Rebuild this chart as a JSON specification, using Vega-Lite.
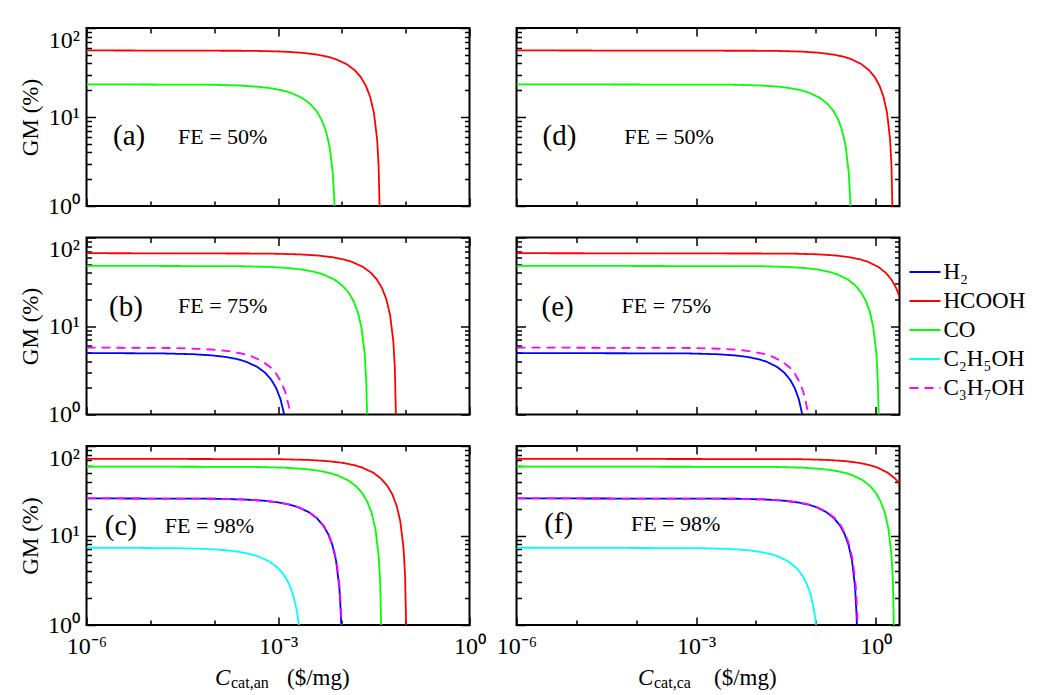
{
"$schema": "https://vega.github.io/schema/vega-lite/v6.json",
"padding": {"left": 18.5, "top": 19, "right": 2, "bottom": 2},
"background": "white",
"spacing": {"row": 31.5, "column": 47},
"columns": 2,
"bounds": "flush",
"resolve": {"scale": {"color": "independent", "strokeDash": "independent"}, "legend": {"color": "independent", "strokeDash": "independent"}},
"config": {
 "font": "Liberation Serif",
 "view": {"stroke": "black", "strokeWidth": 2},
 "axis": {"domain": false, "grid": false, "tickColor": "black", "tickWidth": 1.5, "labelColor": "black", "titleColor": "black", "labelFont": "Liberation Serif", "titleFont": "Liberation Serif", "titleFontWeight": "normal", "labelFontSize": 24, "labelOverlap": false, "labelFlush": false, "labelBound": false}
},
"datasets": {
 "notes": [
  {"p":"a","c":2.6e-6,"gm":6.1,"t":"(a)"},
  {"p":"a","c":2.71e-5,"gm":6.0,"t":"FE = 50%"},
  {"p":"b","c":2.25e-6,"gm":16.4,"t":"(b)"},
  {"p":"b","c":2.71e-5,"gm":17.0,"t":"FE = 75%"},
  {"p":"c","c":1.93e-6,"gm":12.8,"t":"(c)"},
  {"p":"c","c":1.68e-5,"gm":12.8,"t":"FE = 98%"},
  {"p":"d","c":2.72e-6,"gm":6.1,"t":"(d)"},
  {"p":"d","c":6.32e-5,"gm":6.0,"t":"FE = 50%"},
  {"p":"e","c":2.62e-6,"gm":16.4,"t":"(e)"},
  {"p":"e","c":5.7e-5,"gm":17.0,"t":"FE = 75%"},
  {"p":"f","c":2.9e-6,"gm":13.4,"t":"(f)"},
  {"p":"f","c":8.15e-5,"gm":13.4,"t":"FE = 98%"}
 ],
 "a": [
  {"s":"HCOOH","c":1e-6,"gm":56},{"s":"HCOOH","c":3.97e-4,"gm":55.44},{"s":"HCOOH","c":1.191e-3,"gm":54.32},{"s":"HCOOH","c":2.382e-3,"gm":52.64},{"s":"HCOOH","c":3.97e-3,"gm":50.4},{"s":"HCOOH","c":5.955e-3,"gm":47.6},{"s":"HCOOH","c":7.94e-3,"gm":44.8},{"s":"HCOOH","c":0.01191,"gm":39.2},{"s":"HCOOH","c":0.01588,"gm":33.6},{"s":"HCOOH","c":0.01985,"gm":28},{"s":"HCOOH","c":0.02382,"gm":22.4},{"s":"HCOOH","c":0.02779,"gm":16.8},{"s":"HCOOH","c":0.03176,"gm":11.2},{"s":"HCOOH","c":0.03573,"gm":5.6},{"s":"HCOOH","c":0.03772,"gm":2.8},{"s":"HCOOH","c":0.03899,"gm":1},
  {"s":"CO","c":1e-6,"gm":23.3},{"s":"CO","c":8.03e-5,"gm":23.07},{"s":"CO","c":2.409e-4,"gm":22.6},{"s":"CO","c":4.818e-4,"gm":21.9},{"s":"CO","c":8.03e-4,"gm":20.97},{"s":"CO","c":1.2045e-3,"gm":19.81},{"s":"CO","c":1.606e-3,"gm":18.64},{"s":"CO","c":2.409e-3,"gm":16.31},{"s":"CO","c":3.212e-3,"gm":13.98},{"s":"CO","c":4.015e-3,"gm":11.65},{"s":"CO","c":4.818e-3,"gm":9.32},{"s":"CO","c":5.621e-3,"gm":6.99},{"s":"CO","c":6.424e-3,"gm":4.66},{"s":"CO","c":7.227e-3,"gm":2.33},{"s":"CO","c":7.6285e-3,"gm":1.165},{"s":"CO","c":7.6853e-3,"gm":1}
 ],
 "d": [
  {"s":"HCOOH","c":1e-6,"gm":56},{"s":"HCOOH","c":0.01934,"gm":55.44},{"s":"HCOOH","c":0.05802,"gm":54.32},{"s":"HCOOH","c":0.11604,"gm":52.64},{"s":"HCOOH","c":0.1934,"gm":50.4},{"s":"HCOOH","c":0.2901,"gm":47.6},{"s":"HCOOH","c":0.3868,"gm":44.8},{"s":"HCOOH","c":0.5802,"gm":39.2},{"s":"HCOOH","c":0.7736,"gm":33.6},{"s":"HCOOH","c":0.967,"gm":28},{"s":"HCOOH","c":1.1604,"gm":22.4},{"s":"HCOOH","c":1.3538,"gm":16.8},{"s":"HCOOH","c":1.5472,"gm":11.2},{"s":"HCOOH","c":1.7406,"gm":5.6},{"s":"HCOOH","c":1.8373,"gm":2.8},{"s":"HCOOH","c":1.8995,"gm":1},
  {"s":"CO","c":1e-6,"gm":23.3},{"s":"CO","c":3.95e-3,"gm":23.07},{"s":"CO","c":0.01185,"gm":22.6},{"s":"CO","c":0.0237,"gm":21.9},{"s":"CO","c":0.0395,"gm":20.97},{"s":"CO","c":0.05925,"gm":19.81},{"s":"CO","c":0.079,"gm":18.64},{"s":"CO","c":0.1185,"gm":16.31},{"s":"CO","c":0.158,"gm":13.98},{"s":"CO","c":0.1975,"gm":11.65},{"s":"CO","c":0.237,"gm":9.32},{"s":"CO","c":0.2765,"gm":6.99},{"s":"CO","c":0.316,"gm":4.66},{"s":"CO","c":0.3555,"gm":2.33},{"s":"CO","c":0.37525,"gm":1.165},{"s":"CO","c":0.37805,"gm":1}
 ],
 "b": [
  {"s":"H₂","c":1e-6,"gm":4.95},{"s":"H₂","c":1.566e-5,"gm":4.9},{"s":"H₂","c":4.698e-5,"gm":4.8},{"s":"H₂","c":9.396e-5,"gm":4.65},{"s":"H₂","c":1.566e-4,"gm":4.455},{"s":"H₂","c":2.349e-4,"gm":4.21},{"s":"H₂","c":3.132e-4,"gm":3.96},{"s":"H₂","c":4.698e-4,"gm":3.465},{"s":"H₂","c":6.264e-4,"gm":2.97},{"s":"H₂","c":7.83e-4,"gm":2.475},{"s":"H₂","c":9.396e-4,"gm":1.98},{"s":"H₂","c":1.0962e-3,"gm":1.485},{"s":"H₂","c":1.2497e-3,"gm":1},
  {"s":"HCOOH","c":1e-6,"gm":66.5},{"s":"HCOOH","c":7.13e-4,"gm":65.84},{"s":"HCOOH","c":2.139e-3,"gm":64.51},{"s":"HCOOH","c":4.278e-3,"gm":62.51},{"s":"HCOOH","c":7.13e-3,"gm":59.85},{"s":"HCOOH","c":0.010695,"gm":56.53},{"s":"HCOOH","c":0.01426,"gm":53.2},{"s":"HCOOH","c":0.02139,"gm":46.55},{"s":"HCOOH","c":0.02852,"gm":39.9},{"s":"HCOOH","c":0.03565,"gm":33.25},{"s":"HCOOH","c":0.04278,"gm":26.6},{"s":"HCOOH","c":0.04991,"gm":19.95},{"s":"HCOOH","c":0.05704,"gm":13.3},{"s":"HCOOH","c":0.06417,"gm":6.65},{"s":"HCOOH","c":0.067735,"gm":3.325},{"s":"HCOOH","c":0.070228,"gm":1},
  {"s":"CO","c":1e-6,"gm":47.9},{"s":"CO","c":2.54e-4,"gm":47.42},{"s":"CO","c":7.62e-4,"gm":46.46},{"s":"CO","c":1.524e-3,"gm":45.03},{"s":"CO","c":2.54e-3,"gm":43.11},{"s":"CO","c":3.81e-3,"gm":40.72},{"s":"CO","c":5.08e-3,"gm":38.32},{"s":"CO","c":7.62e-3,"gm":33.53},{"s":"CO","c":0.01016,"gm":28.74},{"s":"CO","c":0.0127,"gm":23.95},{"s":"CO","c":0.01524,"gm":19.16},{"s":"CO","c":0.01778,"gm":14.37},{"s":"CO","c":0.02032,"gm":9.58},{"s":"CO","c":0.02286,"gm":4.79},{"s":"CO","c":0.02413,"gm":2.395},{"s":"CO","c":0.02487,"gm":1},
  {"s":"C₃H₇OH","c":1e-6,"gm":5.7},{"s":"C₃H₇OH","c":1.9e-5,"gm":5.643},{"s":"C₃H₇OH","c":5.7e-5,"gm":5.529},{"s":"C₃H₇OH","c":1.14e-4,"gm":5.358},{"s":"C₃H₇OH","c":1.9e-4,"gm":5.13},{"s":"C₃H₇OH","c":2.85e-4,"gm":4.845},{"s":"C₃H₇OH","c":3.8e-4,"gm":4.56},{"s":"C₃H₇OH","c":5.7e-4,"gm":3.99},{"s":"C₃H₇OH","c":7.6e-4,"gm":3.42},{"s":"C₃H₇OH","c":9.5e-4,"gm":2.85},{"s":"C₃H₇OH","c":1.14e-3,"gm":2.28},{"s":"C₃H₇OH","c":1.33e-3,"gm":1.71},{"s":"C₃H₇OH","c":1.52e-3,"gm":1.14},{"s":"C₃H₇OH","c":1.5667e-3,"gm":1}
 ],
 "e": [
  {"s":"H₂","c":1e-6,"gm":4.95},{"s":"H₂","c":7.44e-4,"gm":4.9},{"s":"H₂","c":2.232e-3,"gm":4.8},{"s":"H₂","c":4.464e-3,"gm":4.65},{"s":"H₂","c":7.44e-3,"gm":4.455},{"s":"H₂","c":0.01116,"gm":4.21},{"s":"H₂","c":0.01488,"gm":3.96},{"s":"H₂","c":0.02232,"gm":3.465},{"s":"H₂","c":0.02976,"gm":2.97},{"s":"H₂","c":0.0372,"gm":2.475},{"s":"H₂","c":0.04464,"gm":1.98},{"s":"H₂","c":0.05208,"gm":1.485},{"s":"H₂","c":0.05937,"gm":1},
  {"s":"HCOOH","c":1e-6,"gm":66.5},{"s":"HCOOH","c":0.0369,"gm":65.84},{"s":"HCOOH","c":0.1107,"gm":64.51},{"s":"HCOOH","c":0.2214,"gm":62.51},{"s":"HCOOH","c":0.369,"gm":59.85},{"s":"HCOOH","c":0.5535,"gm":56.53},{"s":"HCOOH","c":0.738,"gm":53.2},{"s":"HCOOH","c":1.107,"gm":46.55},{"s":"HCOOH","c":1.476,"gm":39.9},{"s":"HCOOH","c":1.845,"gm":33.25},{"s":"HCOOH","c":2.214,"gm":26.6},{"s":"HCOOH","c":2.5,"gm":21.45},
  {"s":"CO","c":1e-6,"gm":47.9},{"s":"CO","c":0.01143,"gm":47.42},{"s":"CO","c":0.03429,"gm":46.46},{"s":"CO","c":0.06858,"gm":45.03},{"s":"CO","c":0.1143,"gm":43.11},{"s":"CO","c":0.17145,"gm":40.72},{"s":"CO","c":0.2286,"gm":38.32},{"s":"CO","c":0.3429,"gm":33.53},{"s":"CO","c":0.4572,"gm":28.74},{"s":"CO","c":0.5715,"gm":23.95},{"s":"CO","c":0.6858,"gm":19.16},{"s":"CO","c":0.8001,"gm":14.37},{"s":"CO","c":0.9144,"gm":9.58},{"s":"CO","c":1.0287,"gm":4.79},{"s":"CO","c":1.08585,"gm":2.395},{"s":"CO","c":1.11913,"gm":1},
  {"s":"C₃H₇OH","c":1e-6,"gm":5.7},{"s":"C₃H₇OH","c":9.05e-4,"gm":5.643},{"s":"C₃H₇OH","c":2.715e-3,"gm":5.529},{"s":"C₃H₇OH","c":5.43e-3,"gm":5.358},{"s":"C₃H₇OH","c":9.05e-3,"gm":5.13},{"s":"C₃H₇OH","c":0.013575,"gm":4.845},{"s":"C₃H₇OH","c":0.0181,"gm":4.56},{"s":"C₃H₇OH","c":0.02715,"gm":3.99},{"s":"C₃H₇OH","c":0.0362,"gm":3.42},{"s":"C₃H₇OH","c":0.04525,"gm":2.85},{"s":"C₃H₇OH","c":0.0543,"gm":2.28},{"s":"C₃H₇OH","c":0.06335,"gm":1.71},{"s":"C₃H₇OH","c":0.0724,"gm":1.14},{"s":"C₃H₇OH","c":0.07462,"gm":1}
 ],
 "c": [
  {"s":"H₂","c":1e-6,"gm":26},{"s":"H₂","c":1.017e-4,"gm":25.74},{"s":"H₂","c":3.051e-4,"gm":25.22},{"s":"H₂","c":6.102e-4,"gm":24.44},{"s":"H₂","c":1.017e-3,"gm":23.4},{"s":"H₂","c":1.5255e-3,"gm":22.1},{"s":"H₂","c":2.034e-3,"gm":20.8},{"s":"H₂","c":3.051e-3,"gm":18.2},{"s":"H₂","c":4.068e-3,"gm":15.6},{"s":"H₂","c":5.085e-3,"gm":13},{"s":"H₂","c":6.102e-3,"gm":10.4},{"s":"H₂","c":7.119e-3,"gm":7.8},{"s":"H₂","c":8.136e-3,"gm":5.2},{"s":"H₂","c":9.153e-3,"gm":2.6},{"s":"H₂","c":9.6615e-3,"gm":1.3},{"s":"H₂","c":9.7789e-3,"gm":1},
  {"s":"HCOOH","c":1e-6,"gm":72},{"s":"HCOOH","c":1.03e-3,"gm":71.28},{"s":"HCOOH","c":3.09e-3,"gm":69.84},{"s":"HCOOH","c":6.18e-3,"gm":67.68},{"s":"HCOOH","c":0.0103,"gm":64.8},{"s":"HCOOH","c":0.01545,"gm":61.2},{"s":"HCOOH","c":0.0206,"gm":57.6},{"s":"HCOOH","c":0.0309,"gm":50.4},{"s":"HCOOH","c":0.0412,"gm":43.2},{"s":"HCOOH","c":0.0515,"gm":36},{"s":"HCOOH","c":0.0618,"gm":28.8},{"s":"HCOOH","c":0.0721,"gm":21.6},{"s":"HCOOH","c":0.0824,"gm":14.4},{"s":"HCOOH","c":0.0927,"gm":7.2},{"s":"HCOOH","c":0.09785,"gm":3.6},{"s":"HCOOH","c":0.10157,"gm":1},
  {"s":"CO","c":1e-6,"gm":59},{"s":"CO","c":4.2e-4,"gm":58.41},{"s":"CO","c":1.26e-3,"gm":57.23},{"s":"CO","c":2.52e-3,"gm":55.46},{"s":"CO","c":4.2e-3,"gm":53.1},{"s":"CO","c":6.3e-3,"gm":50.15},{"s":"CO","c":8.4e-3,"gm":47.2},{"s":"CO","c":0.0126,"gm":41.3},{"s":"CO","c":0.0168,"gm":35.4},{"s":"CO","c":0.021,"gm":29.5},{"s":"CO","c":0.0252,"gm":23.6},{"s":"CO","c":0.0294,"gm":17.7},{"s":"CO","c":0.0336,"gm":11.8},{"s":"CO","c":0.0378,"gm":5.9},{"s":"CO","c":0.0399,"gm":2.95},{"s":"CO","c":0.041288,"gm":1},
  {"s":"C₂H₅OH","c":1e-6,"gm":7.3},{"s":"C₂H₅OH","c":2.46e-5,"gm":7.227},{"s":"C₂H₅OH","c":7.38e-5,"gm":7.081},{"s":"C₂H₅OH","c":1.476e-4,"gm":6.862},{"s":"C₂H₅OH","c":2.46e-4,"gm":6.57},{"s":"C₂H₅OH","c":3.69e-4,"gm":6.205},{"s":"C₂H₅OH","c":4.92e-4,"gm":5.84},{"s":"C₂H₅OH","c":7.38e-4,"gm":5.11},{"s":"C₂H₅OH","c":9.84e-4,"gm":4.38},{"s":"C₂H₅OH","c":1.23e-3,"gm":3.65},{"s":"C₂H₅OH","c":1.476e-3,"gm":2.92},{"s":"C₂H₅OH","c":1.722e-3,"gm":2.19},{"s":"C₂H₅OH","c":1.968e-3,"gm":1.46},{"s":"C₂H₅OH","c":2.123e-3,"gm":1},
  {"s":"C₃H₇OH","c":1e-6,"gm":26},{"s":"C₃H₇OH","c":1.03e-4,"gm":25.74},{"s":"C₃H₇OH","c":3.09e-4,"gm":25.22},{"s":"C₃H₇OH","c":6.18e-4,"gm":24.44},{"s":"C₃H₇OH","c":1.03e-3,"gm":23.4},{"s":"C₃H₇OH","c":1.545e-3,"gm":22.1},{"s":"C₃H₇OH","c":2.06e-3,"gm":20.8},{"s":"C₃H₇OH","c":3.09e-3,"gm":18.2},{"s":"C₃H₇OH","c":4.12e-3,"gm":15.6},{"s":"C₃H₇OH","c":5.15e-3,"gm":13},{"s":"C₃H₇OH","c":6.18e-3,"gm":10.4},{"s":"C₃H₇OH","c":7.21e-3,"gm":7.8},{"s":"C₃H₇OH","c":8.24e-3,"gm":5.2},{"s":"C₃H₇OH","c":9.27e-3,"gm":2.6},{"s":"C₃H₇OH","c":9.785e-3,"gm":1.3},{"s":"C₃H₇OH","c":9.9039e-3,"gm":1}
 ],
 "f": [
  {"s":"H₂","c":1e-6,"gm":26},{"s":"H₂","c":5.04e-3,"gm":25.74},{"s":"H₂","c":0.01512,"gm":25.22},{"s":"H₂","c":0.03024,"gm":24.44},{"s":"H₂","c":0.0504,"gm":23.4},{"s":"H₂","c":0.0756,"gm":22.1},{"s":"H₂","c":0.1008,"gm":20.8},{"s":"H₂","c":0.1512,"gm":18.2},{"s":"H₂","c":0.2016,"gm":15.6},{"s":"H₂","c":0.252,"gm":13},{"s":"H₂","c":0.3024,"gm":10.4},{"s":"H₂","c":0.3528,"gm":7.8},{"s":"H₂","c":0.4032,"gm":5.2},{"s":"H₂","c":0.4536,"gm":2.6},{"s":"H₂","c":0.4788,"gm":1.3},{"s":"H₂","c":0.48462,"gm":1},
  {"s":"HCOOH","c":1e-6,"gm":72},{"s":"HCOOH","c":0.0528,"gm":71.28},{"s":"HCOOH","c":0.1584,"gm":69.84},{"s":"HCOOH","c":0.3168,"gm":67.68},{"s":"HCOOH","c":0.528,"gm":64.8},{"s":"HCOOH","c":0.792,"gm":61.2},{"s":"HCOOH","c":1.056,"gm":57.6},{"s":"HCOOH","c":1.584,"gm":50.4},{"s":"HCOOH","c":2.112,"gm":43.2},{"s":"HCOOH","c":2.5,"gm":37.91},
  {"s":"CO","c":1e-6,"gm":59},{"s":"CO","c":0.02045,"gm":58.41},{"s":"CO","c":0.06135,"gm":57.23},{"s":"CO","c":0.1227,"gm":55.46},{"s":"CO","c":0.2045,"gm":53.1},{"s":"CO","c":0.30675,"gm":50.15},{"s":"CO","c":0.409,"gm":47.2},{"s":"CO","c":0.6135,"gm":41.3},{"s":"CO","c":0.818,"gm":35.4},{"s":"CO","c":1.0225,"gm":29.5},{"s":"CO","c":1.227,"gm":23.6},{"s":"CO","c":1.4315,"gm":17.7},{"s":"CO","c":1.636,"gm":11.8},{"s":"CO","c":1.8405,"gm":5.9},{"s":"CO","c":1.94275,"gm":2.95},{"s":"CO","c":2.01033,"gm":1},
  {"s":"C₂H₅OH","c":1e-6,"gm":7.3},{"s":"C₂H₅OH","c":1.17e-3,"gm":7.227},{"s":"C₂H₅OH","c":3.51e-3,"gm":7.081},{"s":"C₂H₅OH","c":7.02e-3,"gm":6.862},{"s":"C₂H₅OH","c":0.0117,"gm":6.57},{"s":"C₂H₅OH","c":0.01755,"gm":6.205},{"s":"C₂H₅OH","c":0.0234,"gm":5.84},{"s":"C₂H₅OH","c":0.0351,"gm":5.11},{"s":"C₂H₅OH","c":0.0468,"gm":4.38},{"s":"C₂H₅OH","c":0.0585,"gm":3.65},{"s":"C₂H₅OH","c":0.0702,"gm":2.92},{"s":"C₂H₅OH","c":0.0819,"gm":2.19},{"s":"C₂H₅OH","c":0.0936,"gm":1.46},{"s":"C₂H₅OH","c":0.10097,"gm":1},
  {"s":"C₃H₇OH","c":1e-6,"gm":26},{"s":"C₃H₇OH","c":5.2e-3,"gm":25.74},{"s":"C₃H₇OH","c":0.0156,"gm":25.22},{"s":"C₃H₇OH","c":0.0312,"gm":24.44},{"s":"C₃H₇OH","c":0.052,"gm":23.4},{"s":"C₃H₇OH","c":0.078,"gm":22.1},{"s":"C₃H₇OH","c":0.104,"gm":20.8},{"s":"C₃H₇OH","c":0.156,"gm":18.2},{"s":"C₃H₇OH","c":0.208,"gm":15.6},{"s":"C₃H₇OH","c":0.26,"gm":13},{"s":"C₃H₇OH","c":0.312,"gm":10.4},{"s":"C₃H₇OH","c":0.364,"gm":7.8},{"s":"C₃H₇OH","c":0.416,"gm":5.2},{"s":"C₃H₇OH","c":0.468,"gm":2.6},{"s":"C₃H₇OH","c":0.494,"gm":1.3},{"s":"C₃H₇OH","c":0.5,"gm":1}
 ]
},
"concat": [
 {
  "width": 383, "height": 178,
  "resolve": {"axis": {"x": "independent", "y": "independent"}},
  "layer": [
   {"data": {"name": "a"}, "mark": {"type": "line", "strokeWidth": 1.8, "clip": true},
    "encoding": {
     "x": {"field": "c", "type": "quantitative", "scale": {"type": "log", "domain": [1e-6, 1], "nice": false}, "axis": {"orient": "bottom", "values": [0.000001,0.00001,0.0001,0.001,0.01,0.1,1], "tickSize": {"condition": {"test": "round(log(datum.value)/LN10) % 3 == 0", "value": -8}, "value": -5}, "labels": false, "title": null}},
     "y": {"field": "gm", "type": "quantitative", "scale": {"type": "log", "domain": [1, 100], "nice": false}, "axis": {"orient": "left", "values": [1,2,3,4,5,6,7,8,9,10,20,30,40,50,60,70,80,90,100], "tickSize": {"condition": {"test": "datum.value == 1 || datum.value == 10 || datum.value == 100", "value": -9}, "value": -5}, "labelExpr": "datum.value == 1 ? '10⁰' : datum.value == 10 ? '10¹' : datum.value == 100 ? '10²' : ''", "labelPadding": 16, "labelBaseline": {"condition": {"test": "datum.value == 100", "value": "top"}, "value": "middle"}, "title": "GM (%)", "titleFontSize": 23, "titlePadding": 5}},
     "color": {"field": "s", "type": "nominal", "scale": {"domain": ["H₂","HCOOH","CO","C₂H₅OH","C₃H₇OH"], "range": ["#0000ff","#ff0000","#00ff00","#00ffff","#ff00ff"]}, "legend": null},
     "strokeDash": {"field": "s", "type": "nominal", "scale": {"domain": ["H₂","HCOOH","CO","C₂H₅OH","C₃H₇OH"], "range": [[1,0],[1,0],[1,0],[1,0],[9,6]]}, "legend": null}
    }},
   {"data": {"name": "notes"}, "transform": [{"filter": "datum.p == 'a' && indexof(datum.t, 'FE') < 0"}], "mark": {"type": "text", "fontSize": 29, "align": "left", "baseline": "middle", "color": "black"},
    "encoding": {
     "x": {"field": "c", "type": "quantitative", "axis": {"orient": "top", "values": [0.000001,0.00001,0.0001,0.001,0.01,0.1,1], "tickSize": {"condition": {"test": "round(log(datum.value)/LN10) % 3 == 0", "value": -8}, "value": -5}, "labels": false, "title": null}},
     "y": {"field": "gm", "type": "quantitative", "axis": {"orient": "right", "values": [1,2,3,4,5,6,7,8,9,10,20,30,40,50,60,70,80,90,100], "tickSize": {"condition": {"test": "datum.value == 1 || datum.value == 10 || datum.value == 100", "value": -9}, "value": -5}, "labels": false, "title": null}},
     "text": {"field": "t"}
    }},
   {"data": {"name": "notes"}, "transform": [{"filter": "datum.p == 'a' && indexof(datum.t, 'FE') == 0"}], "mark": {"type": "text", "fontSize": 22, "align": "left", "baseline": "middle", "color": "black"},
    "encoding": {
     "x": {"field": "c", "type": "quantitative", "axis": null},
     "y": {"field": "gm", "type": "quantitative", "axis": null},
     "text": {"field": "t"}
    }}
  ]
 },
 {
  "width": 383, "height": 178,
  "resolve": {"axis": {"x": "independent", "y": "independent"}},
  "layer": [
   {"data": {"name": "d"}, "mark": {"type": "line", "strokeWidth": 1.8, "clip": true},
    "encoding": {
     "x": {"field": "c", "type": "quantitative", "scale": {"type": "log", "domain": [1e-6, 2.5], "nice": false}, "axis": {"orient": "bottom", "values": [0.000001,0.00001,0.0001,0.001,0.01,0.1,1], "tickSize": {"condition": {"test": "round(log(datum.value)/LN10) % 3 == 0", "value": -8}, "value": -5}, "labels": false, "title": null}},
     "y": {"field": "gm", "type": "quantitative", "scale": {"type": "log", "domain": [1, 100], "nice": false}, "axis": {"orient": "left", "values": [1,2,3,4,5,6,7,8,9,10,20,30,40,50,60,70,80,90,100], "tickSize": {"condition": {"test": "datum.value == 1 || datum.value == 10 || datum.value == 100", "value": -9}, "value": -5}, "labels": false, "title": null}},
     "color": {"field": "s", "type": "nominal", "scale": {"domain": ["H₂","HCOOH","CO","C₂H₅OH","C₃H₇OH"], "range": ["#0000ff","#ff0000","#00ff00","#00ffff","#ff00ff"]}, "legend": null},
     "strokeDash": {"field": "s", "type": "nominal", "scale": {"domain": ["H₂","HCOOH","CO","C₂H₅OH","C₃H₇OH"], "range": [[1,0],[1,0],[1,0],[1,0],[9,6]]}, "legend": null}
    }},
   {"data": {"name": "notes"}, "transform": [{"filter": "datum.p == 'd' && indexof(datum.t, 'FE') < 0"}], "mark": {"type": "text", "fontSize": 29, "align": "left", "baseline": "middle", "color": "black"},
    "encoding": {
     "x": {"field": "c", "type": "quantitative", "axis": {"orient": "top", "values": [0.000001,0.00001,0.0001,0.001,0.01,0.1,1], "tickSize": {"condition": {"test": "round(log(datum.value)/LN10) % 3 == 0", "value": -8}, "value": -5}, "labels": false, "title": null}},
     "y": {"field": "gm", "type": "quantitative", "axis": {"orient": "right", "values": [1,2,3,4,5,6,7,8,9,10,20,30,40,50,60,70,80,90,100], "tickSize": {"condition": {"test": "datum.value == 1 || datum.value == 10 || datum.value == 100", "value": -9}, "value": -5}, "labels": false, "title": null}},
     "text": {"field": "t"}
    }},
   {"data": {"name": "notes"}, "transform": [{"filter": "datum.p == 'd' && indexof(datum.t, 'FE') == 0"}], "mark": {"type": "text", "fontSize": 22, "align": "left", "baseline": "middle", "color": "black"},
    "encoding": {
     "x": {"field": "c", "type": "quantitative", "axis": null},
     "y": {"field": "gm", "type": "quantitative", "axis": null},
     "text": {"field": "t"}
    }}
  ]
 },
 {
  "width": 383, "height": 177,
  "resolve": {"axis": {"x": "independent", "y": "independent"}},
  "layer": [
   {"data": {"name": "b"}, "mark": {"type": "line", "strokeWidth": 1.8, "clip": true},
    "encoding": {
     "x": {"field": "c", "type": "quantitative", "scale": {"type": "log", "domain": [1e-6, 1], "nice": false}, "axis": {"orient": "bottom", "values": [0.000001,0.00001,0.0001,0.001,0.01,0.1,1], "tickSize": {"condition": {"test": "round(log(datum.value)/LN10) % 3 == 0", "value": -8}, "value": -5}, "labels": false, "title": null}},
     "y": {"field": "gm", "type": "quantitative", "scale": {"type": "log", "domain": [1, 100], "nice": false}, "axis": {"orient": "left", "values": [1,2,3,4,5,6,7,8,9,10,20,30,40,50,60,70,80,90,100], "tickSize": {"condition": {"test": "datum.value == 1 || datum.value == 10 || datum.value == 100", "value": -9}, "value": -5}, "labelExpr": "datum.value == 1 ? '10⁰' : datum.value == 10 ? '10¹' : datum.value == 100 ? '10²' : ''", "labelPadding": 16, "labelBaseline": {"condition": {"test": "datum.value == 100", "value": "top"}, "value": "middle"}, "title": "GM (%)", "titleFontSize": 23, "titlePadding": 5}},
     "color": {"field": "s", "type": "nominal", "scale": {"domain": ["H₂","HCOOH","CO","C₂H₅OH","C₃H₇OH"], "range": ["#0000ff","#ff0000","#00ff00","#00ffff","#ff00ff"]}, "legend": null},
     "strokeDash": {"field": "s", "type": "nominal", "scale": {"domain": ["H₂","HCOOH","CO","C₂H₅OH","C₃H₇OH"], "range": [[1,0],[1,0],[1,0],[1,0],[9,6]]}, "legend": null}
    }},
   {"data": {"name": "notes"}, "transform": [{"filter": "datum.p == 'b' && indexof(datum.t, 'FE') < 0"}], "mark": {"type": "text", "fontSize": 29, "align": "left", "baseline": "middle", "color": "black"},
    "encoding": {
     "x": {"field": "c", "type": "quantitative", "axis": {"orient": "top", "values": [0.000001,0.00001,0.0001,0.001,0.01,0.1,1], "tickSize": {"condition": {"test": "round(log(datum.value)/LN10) % 3 == 0", "value": -8}, "value": -5}, "labels": false, "title": null}},
     "y": {"field": "gm", "type": "quantitative", "axis": {"orient": "right", "values": [1,2,3,4,5,6,7,8,9,10,20,30,40,50,60,70,80,90,100], "tickSize": {"condition": {"test": "datum.value == 1 || datum.value == 10 || datum.value == 100", "value": -9}, "value": -5}, "labels": false, "title": null}},
     "text": {"field": "t"}
    }},
   {"data": {"name": "notes"}, "transform": [{"filter": "datum.p == 'b' && indexof(datum.t, 'FE') == 0"}], "mark": {"type": "text", "fontSize": 22, "align": "left", "baseline": "middle", "color": "black"},
    "encoding": {
     "x": {"field": "c", "type": "quantitative", "axis": null},
     "y": {"field": "gm", "type": "quantitative", "axis": null},
     "text": {"field": "t"}
    }}
  ]
 },
 {
  "width": 383, "height": 177,
  "resolve": {"axis": {"x": "independent", "y": "independent"}},
  "layer": [
   {"data": {"name": "e"}, "mark": {"type": "line", "strokeWidth": 1.8, "clip": true},
    "encoding": {
     "x": {"field": "c", "type": "quantitative", "scale": {"type": "log", "domain": [1e-6, 2.5], "nice": false}, "axis": {"orient": "bottom", "values": [0.000001,0.00001,0.0001,0.001,0.01,0.1,1], "tickSize": {"condition": {"test": "round(log(datum.value)/LN10) % 3 == 0", "value": -8}, "value": -5}, "labels": false, "title": null}},
     "y": {"field": "gm", "type": "quantitative", "scale": {"type": "log", "domain": [1, 100], "nice": false}, "axis": {"orient": "left", "values": [1,2,3,4,5,6,7,8,9,10,20,30,40,50,60,70,80,90,100], "tickSize": {"condition": {"test": "datum.value == 1 || datum.value == 10 || datum.value == 100", "value": -9}, "value": -5}, "labels": false, "title": null}},
     "color": {"field": "s", "type": "nominal", "scale": {"domain": ["H₂","HCOOH","CO","C₂H₅OH","C₃H₇OH"], "range": ["#0000ff","#ff0000","#00ff00","#00ffff","#ff00ff"]}, "legend": {"orient": "none", "legendX": 392, "legendY": 18, "title": null, "symbolType": "stroke", "symbolSize": 961, "symbolStrokeWidth": 2, "labelFontSize": 23, "labelFont": "Liberation Serif", "labelColor": "black", "rowPadding": -0.7, "labelOffset": 2, "padding": 0}},
     "strokeDash": {"field": "s", "type": "nominal", "scale": {"domain": ["H₂","HCOOH","CO","C₂H₅OH","C₃H₇OH"], "range": [[1,0],[1,0],[1,0],[1,0],[9,6]]}, "legend": {"orient": "none", "legendX": 392, "legendY": 18, "title": null, "symbolType": "stroke", "symbolSize": 961, "symbolStrokeWidth": 2, "labelFontSize": 23, "labelFont": "Liberation Serif", "labelColor": "black", "rowPadding": -0.7, "labelOffset": 2, "padding": 0}}
    }},
   {"data": {"name": "notes"}, "transform": [{"filter": "datum.p == 'e' && indexof(datum.t, 'FE') < 0"}], "mark": {"type": "text", "fontSize": 29, "align": "left", "baseline": "middle", "color": "black"},
    "encoding": {
     "x": {"field": "c", "type": "quantitative", "axis": {"orient": "top", "values": [0.000001,0.00001,0.0001,0.001,0.01,0.1,1], "tickSize": {"condition": {"test": "round(log(datum.value)/LN10) % 3 == 0", "value": -8}, "value": -5}, "labels": false, "title": null}},
     "y": {"field": "gm", "type": "quantitative", "axis": {"orient": "right", "values": [1,2,3,4,5,6,7,8,9,10,20,30,40,50,60,70,80,90,100], "tickSize": {"condition": {"test": "datum.value == 1 || datum.value == 10 || datum.value == 100", "value": -9}, "value": -5}, "labels": false, "title": null}},
     "text": {"field": "t"}
    }},
   {"data": {"name": "notes"}, "transform": [{"filter": "datum.p == 'e' && indexof(datum.t, 'FE') == 0"}], "mark": {"type": "text", "fontSize": 22, "align": "left", "baseline": "middle", "color": "black"},
    "encoding": {
     "x": {"field": "c", "type": "quantitative", "axis": null},
     "y": {"field": "gm", "type": "quantitative", "axis": null},
     "text": {"field": "t"}
    }}
  ]
 },
 {
  "width": 383, "height": 179,
  "resolve": {"axis": {"x": "independent", "y": "independent"}},
  "layer": [
   {"data": {"name": "c"}, "mark": {"type": "line", "strokeWidth": 1.8, "clip": true},
    "encoding": {
     "x": {"field": "c", "type": "quantitative", "scale": {"type": "log", "domain": [1e-6, 1], "nice": false}, "axis": {"orient": "bottom", "values": [0.000001,0.00001,0.0001,0.001,0.01,0.1,1], "tickSize": {"condition": {"test": "round(log(datum.value)/LN10) % 3 == 0", "value": -8}, "value": -5}, "labelExpr": "round(log(datum.value)/LN10) == -6 ? '10⁻⁶' : round(log(datum.value)/LN10) == -3 ? '10⁻³' : round(log(datum.value)/LN10) == 0 ? '10⁰' : ''", "labelPadding": 17, "title": "C", "titleFontStyle": "italic", "titleFontSize": 23, "titleX": 128, "titleY": 59, "titleAlign": "left", "titleBaseline": "alphabetic"}},
     "y": {"field": "gm", "type": "quantitative", "scale": {"type": "log", "domain": [1, 100], "nice": false}, "axis": {"orient": "left", "values": [1,2,3,4,5,6,7,8,9,10,20,30,40,50,60,70,80,90,100], "tickSize": {"condition": {"test": "datum.value == 1 || datum.value == 10 || datum.value == 100", "value": -9}, "value": -5}, "labelExpr": "datum.value == 1 ? '10⁰' : datum.value == 10 ? '10¹' : datum.value == 100 ? '10²' : ''", "labelPadding": 16, "labelBaseline": {"condition": {"test": "datum.value == 100", "value": "top"}, "value": "middle"}, "title": "GM (%)", "titleFontSize": 23, "titlePadding": 5}},
     "color": {"field": "s", "type": "nominal", "scale": {"domain": ["H₂","HCOOH","CO","C₂H₅OH","C₃H₇OH"], "range": ["#0000ff","#ff0000","#00ff00","#00ffff","#ff00ff"]}, "legend": null},
     "strokeDash": {"field": "s", "type": "nominal", "scale": {"domain": ["H₂","HCOOH","CO","C₂H₅OH","C₃H₇OH"], "range": [[1,0],[1,0],[1,0],[1,0],[9,6]]}, "legend": null}
    }},
   {"data": {"name": "notes"}, "transform": [{"filter": "datum.p == 'c' && indexof(datum.t, 'FE') < 0"}], "mark": {"type": "text", "fontSize": 29, "align": "left", "baseline": "middle", "color": "black"},
    "encoding": {
     "x": {"field": "c", "type": "quantitative", "axis": {"orient": "top", "values": [0.000001,0.00001,0.0001,0.001,0.01,0.1,1], "tickSize": {"condition": {"test": "round(log(datum.value)/LN10) % 3 == 0", "value": -8}, "value": -5}, "labels": false, "title": null}},
     "y": {"field": "gm", "type": "quantitative", "axis": {"orient": "right", "values": [1,2,3,4,5,6,7,8,9,10,20,30,40,50,60,70,80,90,100], "tickSize": {"condition": {"test": "datum.value == 1 || datum.value == 10 || datum.value == 100", "value": -9}, "value": -5}, "labels": false, "title": null}},
     "text": {"field": "t"}
    }},
   {"data": {"name": "notes"}, "transform": [{"filter": "datum.p == 'c' && indexof(datum.t, 'FE') == 0"}], "mark": {"type": "text", "fontSize": 22, "align": "left", "baseline": "middle", "color": "black"},
    "encoding": {
     "x": {"field": "c", "type": "quantitative", "axis": {"orient": "bottom", "ticks": false, "labels": false, "title": "cat,an", "titleFontSize": 16, "titleX": 144, "titleY": 62, "titleAlign": "left", "titleBaseline": "alphabetic"}},
     "y": {"field": "gm", "type": "quantitative", "axis": null},
     "text": {"field": "t"}
    }},
   {"data": {"name": "notes"}, "transform": [{"filter": "datum.p == 'c'"}], "mark": {"type": "point", "opacity": 0},
    "encoding": {
     "x": {"field": "c", "type": "quantitative", "axis": {"orient": "bottom", "ticks": false, "labels": false, "title": "($/mg)", "titleFontSize": 23, "titleX": 200, "titleY": 59, "titleAlign": "left", "titleBaseline": "alphabetic"}},
     "y": {"field": "gm", "type": "quantitative", "axis": null}
    }}
  ]
 },
 {
  "width": 383, "height": 179,
  "resolve": {"axis": {"x": "independent", "y": "independent"}},
  "layer": [
   {"data": {"name": "f"}, "mark": {"type": "line", "strokeWidth": 1.8, "clip": true},
    "encoding": {
     "x": {"field": "c", "type": "quantitative", "scale": {"type": "log", "domain": [1e-6, 2.5], "nice": false}, "axis": {"orient": "bottom", "values": [0.000001,0.00001,0.0001,0.001,0.01,0.1,1], "tickSize": {"condition": {"test": "round(log(datum.value)/LN10) % 3 == 0", "value": -8}, "value": -5}, "labelExpr": "round(log(datum.value)/LN10) == -6 ? '10⁻⁶' : round(log(datum.value)/LN10) == -3 ? '10⁻³' : round(log(datum.value)/LN10) == 0 ? '10⁰' : ''", "labelPadding": 17, "title": "C", "titleFontStyle": "italic", "titleFontSize": 23, "titleX": 121, "titleY": 59, "titleAlign": "left", "titleBaseline": "alphabetic"}},
     "y": {"field": "gm", "type": "quantitative", "scale": {"type": "log", "domain": [1, 100], "nice": false}, "axis": {"orient": "left", "values": [1,2,3,4,5,6,7,8,9,10,20,30,40,50,60,70,80,90,100], "tickSize": {"condition": {"test": "datum.value == 1 || datum.value == 10 || datum.value == 100", "value": -9}, "value": -5}, "labels": false, "title": null}},
     "color": {"field": "s", "type": "nominal", "scale": {"domain": ["H₂","HCOOH","CO","C₂H₅OH","C₃H₇OH"], "range": ["#0000ff","#ff0000","#00ff00","#00ffff","#ff00ff"]}, "legend": null},
     "strokeDash": {"field": "s", "type": "nominal", "scale": {"domain": ["H₂","HCOOH","CO","C₂H₅OH","C₃H₇OH"], "range": [[1,0],[1,0],[1,0],[1,0],[9,6]]}, "legend": null}
    }},
   {"data": {"name": "notes"}, "transform": [{"filter": "datum.p == 'f' && indexof(datum.t, 'FE') < 0"}], "mark": {"type": "text", "fontSize": 29, "align": "left", "baseline": "middle", "color": "black"},
    "encoding": {
     "x": {"field": "c", "type": "quantitative", "axis": {"orient": "top", "values": [0.000001,0.00001,0.0001,0.001,0.01,0.1,1], "tickSize": {"condition": {"test": "round(log(datum.value)/LN10) % 3 == 0", "value": -8}, "value": -5}, "labels": false, "title": null}},
     "y": {"field": "gm", "type": "quantitative", "axis": {"orient": "right", "values": [1,2,3,4,5,6,7,8,9,10,20,30,40,50,60,70,80,90,100], "tickSize": {"condition": {"test": "datum.value == 1 || datum.value == 10 || datum.value == 100", "value": -9}, "value": -5}, "labels": false, "title": null}},
     "text": {"field": "t"}
    }},
   {"data": {"name": "notes"}, "transform": [{"filter": "datum.p == 'f' && indexof(datum.t, 'FE') == 0"}], "mark": {"type": "text", "fontSize": 22, "align": "left", "baseline": "middle", "color": "black"},
    "encoding": {
     "x": {"field": "c", "type": "quantitative", "axis": {"orient": "bottom", "ticks": false, "labels": false, "title": "cat,ca", "titleFontSize": 16, "titleX": 137, "titleY": 62, "titleAlign": "left", "titleBaseline": "alphabetic"}},
     "y": {"field": "gm", "type": "quantitative", "axis": null},
     "text": {"field": "t"}
    }},
   {"data": {"name": "notes"}, "transform": [{"filter": "datum.p == 'f'"}], "mark": {"type": "point", "opacity": 0},
    "encoding": {
     "x": {"field": "c", "type": "quantitative", "axis": {"orient": "bottom", "ticks": false, "labels": false, "title": "($/mg)", "titleFontSize": 23, "titleX": 197, "titleY": 59, "titleAlign": "left", "titleBaseline": "alphabetic"}},
     "y": {"field": "gm", "type": "quantitative", "axis": null}
    }}
  ]
 }
]
}
